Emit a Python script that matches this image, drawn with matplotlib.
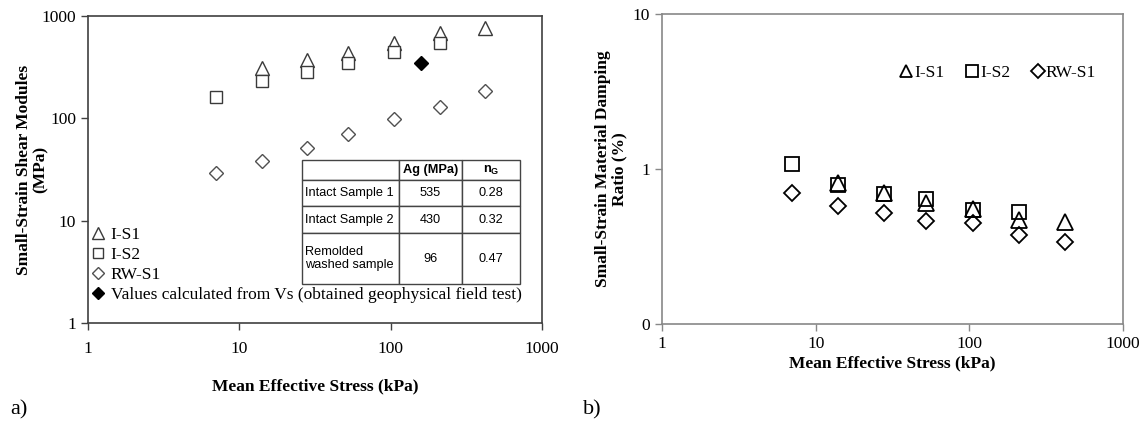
import matplotlib
matplotlib.use('Agg')
import matplotlib.pyplot as plt
from matplotlib.lines import Line2D
from matplotlib.ticker import FixedLocator, FixedFormatter, NullLocator

plt.rcParams['font.family'] = ['Liberation Serif', 'DejaVu Serif']
plt.rcParams['mathtext.fontset'] = 'custom'
plt.rcParams['mathtext.rm'] = 'Liberation Sans'
plt.rcParams['mathtext.bf'] = 'Liberation Sans:bold'

# ---------------- data: (a) small-strain shear modulus ----------------
stress_is1 = [14, 28, 52, 105, 210, 420]
G_is1 = [310, 372, 436, 550, 680, 760]
stress_is2 = [7, 14, 28, 52, 105, 210]
G_is2 = [162, 233, 286, 350, 446, 540]
stress_rw = [7, 14, 28, 52, 105, 210, 420]
G_rw = [29, 38, 51, 70, 98, 129, 186]
stress_field = [158]
G_field = [348]

# ---------------- data: (b) small-strain damping ratio ----------------
dstress_is1 = [14, 28, 52, 105, 210, 420]
D_is1 = [0.81, 0.70, 0.60, 0.55, 0.47, 0.455]
dstress_is2 = [7, 14, 28, 52, 105, 210]
D_is2 = [1.08, 0.79, 0.69, 0.64, 0.54, 0.53]
dstress_rw = [7, 14, 28, 52, 105, 210, 420]
D_rw = [0.70, 0.58, 0.52, 0.46, 0.45, 0.375, 0.34]

# ---------------- inset table ----------------
table_cols = ['', 'Ag (MPa)', r'n$_\mathregular{G}$']
table_rows = ['Intact Sample 1', 'Intact Sample 2', 'Remolded\nwashed sample']
table_Ag = ['535', '430', '96']
table_nG = ['0.28', '0.32', '0.47']

# tick labels
x_ticks = [1, 10, 100, 1000]
x_ticklabels = ['1', '10', '100', '1000']
yG_ticks = [1, 10, 100, 1000]
yG_ticklabels = ['1', '10', '100', '1000']
yD_ticks = [0.1, 1, 10]
yD_ticklabels = ['0', '1', '10']

fig = plt.figure(figsize=(11.48, 4.32), dpi=100)
axA = fig.add_axes([0.0767, 0.2523, 0.3955, 0.7106])
axB = fig.add_axes([0.5767, 0.25, 0.4016, 0.7176])

FS = 12.5

# ---- panel a ----
gcol = '#3a3a3a'
axA.plot(stress_is1, G_is1, linestyle='none', marker='^', ms=10, mfc='white', mec=gcol, mew=1.0)
axA.plot(stress_is2, G_is2, linestyle='none', marker='s', ms=9, mfc='white', mec=gcol, mew=1.0)
axA.plot(stress_rw, G_rw, linestyle='none', marker='D', ms=7.5, mfc='white', mec='#505050', mew=1.0)
axA.plot(stress_field, G_field, linestyle='none', marker='D', ms=7.5, mfc='black', mec='black', mew=1.0)
axA.set_xscale('log')
axA.set_yscale('log')
axA.set_xlim(1, 1000)
axA.set_ylim(1, 1000)

handlesA = [
    Line2D([], [], linestyle='none', marker='^', ms=8, mfc='white', mec=gcol, mew=1.0),
    Line2D([], [], linestyle='none', marker='s', ms=7, mfc='white', mec=gcol, mew=1.0),
    Line2D([], [], linestyle='none', marker='D', ms=6, mfc='white', mec='#505050', mew=1.0),
    Line2D([], [], linestyle='none', marker='D', ms=6, mfc='black', mec='black', mew=1.0),
]
labelsA = ['I-S1', 'I-S2', 'RW-S1', 'Values calculated from Vs (obtained geophysical field test)']
axA.legend(handlesA, labelsA, loc='lower left', bbox_to_anchor=(0.0, 0.055), frameon=False,
           fontsize=FS, handlelength=0.8, handletextpad=0.3, labelspacing=0.22,
           borderpad=0.2, borderaxespad=0.0)

tbl = axA.table(cellText=[[r, a, n] for r, a, n in zip(table_rows, table_Ag, table_nG)],
                colLabels=table_cols, cellLoc='center',
                bbox=[0.471, 0.127, 0.481, 0.404])
tbl.auto_set_font_size(False)
tbl.set_fontsize(9.2)
colw = [97, 63, 58]
rowh = [20, 26, 27, 51]
for (r, c), cell in tbl.get_celld().items():
    cell.set_width(colw[c])
    cell.set_height(rowh[r])
    cell.set_edgecolor('#444444')
    cell.set_linewidth(1.0)
    cell.get_text().set_fontfamily('Liberation Sans')
    if r == 0:
        cell.get_text().set_fontweight('bold')
    if c == 0 and r > 0:
        cell.get_text().set_horizontalalignment('left')
        cell.PAD = 0.03
        cell._loc = 'left'

# ---- panel b ----
axB.plot(dstress_is1, D_is1, linestyle='none', marker='^', ms=11, mfc='none', mec='black', mew=1.3,
         label='I-S1')
axB.plot(dstress_is2, D_is2, linestyle='none', marker='s', ms=10.5, mfc='none', mec='black', mew=1.3,
         label='I-S2')
axB.plot(dstress_rw, D_rw, linestyle='none', marker='D', ms=8, mfc='none', mec='black', mew=1.3,
         label='RW-S1')
axB.set_xscale('log')
axB.set_yscale('log')
axB.set_xlim(1, 1000)
axB.set_ylim(0.1, 10)
axB.legend(loc='center right', bbox_to_anchor=(0.96, 0.81), ncol=3, frameon=False,
           fontsize=FS, handlelength=0.6, handletextpad=0.15, columnspacing=1.3,
           markerscale=0.85, borderpad=0.0)

for ax, yt, ytl, scol in [(axA, yG_ticks, yG_ticklabels, '#404040'),
                          (axB, yD_ticks, yD_ticklabels, '#888888')]:
    ax.xaxis.set_major_locator(FixedLocator(x_ticks))
    ax.xaxis.set_major_formatter(FixedFormatter(x_ticklabels))
    ax.xaxis.set_minor_locator(NullLocator())
    ax.yaxis.set_major_locator(FixedLocator(yt))
    ax.yaxis.set_major_formatter(FixedFormatter(ytl))
    ax.yaxis.set_minor_locator(NullLocator())
    for s in ax.spines.values():
        s.set_color(scol)
        s.set_linewidth(1.2)
    ax.tick_params(axis='both', direction='out', length=5, width=1, color=scol,
                   labelsize=FS, labelcolor='black')

axA.tick_params(axis='x', pad=8)
axB.tick_params(axis='x', pad=4)
axA.set_xlabel('Mean Effective Stress (kPa)', fontsize=FS, fontweight='bold', labelpad=15)
axB.set_xlabel('Mean Effective Stress (kPa)', fontsize=FS, fontweight='bold', labelpad=2)
axA.set_ylabel('Small-Strain Shear Modules\n(MPa)', fontsize=FS, fontweight='bold',
               labelpad=-5, linespacing=1.05)
axB.set_ylabel('Small-Strain Material Damping\nRatio (%)', fontsize=FS, fontweight='bold',
               labelpad=4, linespacing=1.05)

fig.text(10 / 1148, 1 - 410 / 432, 'a)', fontsize=16, va='center', ha='left')
fig.text(583 / 1148, 1 - 410 / 432, 'b)', fontsize=16, va='center', ha='left')

fig.savefig('out.png', dpi=100, facecolor='white')
